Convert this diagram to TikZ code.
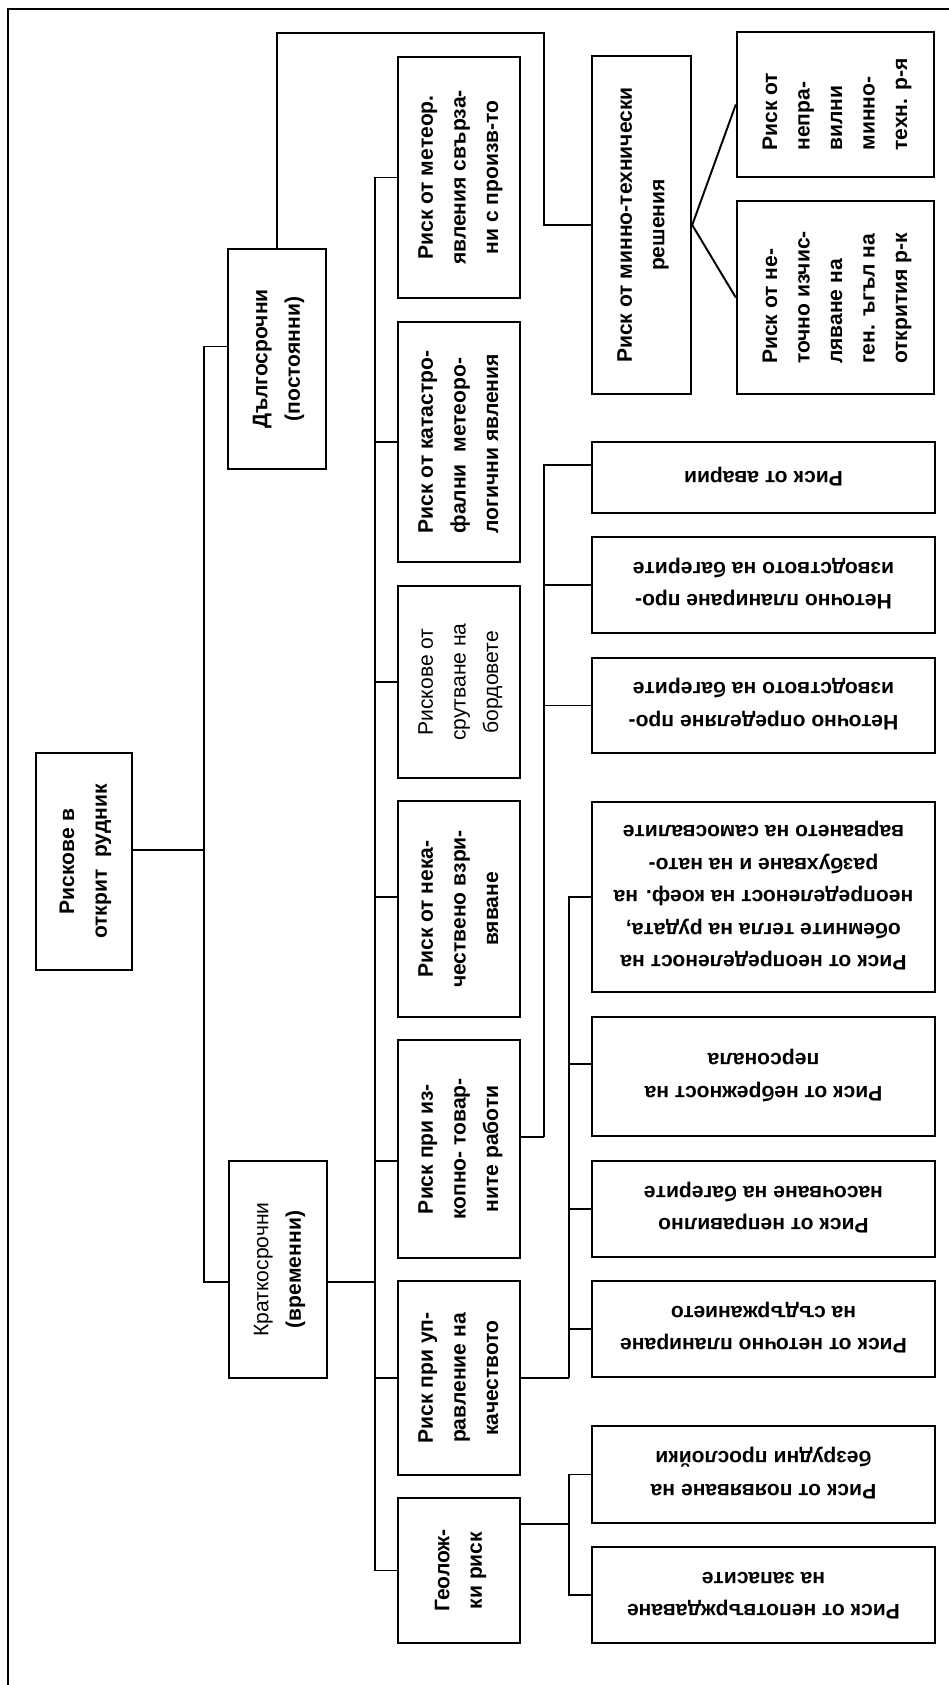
\documentclass[tikz,border=0pt]{standalone}
\usepackage{fontspec}
\setmainfont{Liberation Sans}
\usepackage{graphicx}
\usepackage{tikz}

\newcommand{\rotup}[1]{\rotatebox{90}{\begin{tabular}{@{}c@{}}#1\end{tabular}}}
\newcommand{\rotupl}[1]{\rotatebox{90}{\begin{tabular}{@{}l@{}}#1\end{tabular}}}
\newcommand{\rotdn}[1]{\rotatebox{180}{\begin{tabular}{@{}c@{}}#1\end{tabular}}}

\tikzset{
  box/.style={draw, line width=1.4pt, inner sep=0pt, font=\fontsize{12}{18.5}\selectfont\bfseries},
  midbox/.style={box, minimum width=2.44cm},
  widebox/.style={box, minimum width=6.86cm},
  link/.style={line width=1.1pt}
}

\begin{document}
\begin{tikzpicture}[x=0.02cm, y=-0.02cm]
    \useasboundingbox (0,0) rectangle (949,1685);

    % Frame
    \draw[line width=1.1pt] (960,9) -- (8,9) -- (8,1700);

    % Root and first level
    \node[box, minimum width=1.92cm, minimum height=4.34cm] (root) at (84,861.5) {\rotup{Рискове в\\открит\ \ рудник}};
    \node[box, minimum width=1.96cm, minimum height=4.40cm] (dalg) at (277,359) {\rotup{Дългосрочни\\(постоянни)}};
    \node[box, minimum width=1.96cm, minimum height=4.34cm] (krat) at (278,1269.5) {\rotup{{\mdseries Краткосрочни}\\(временни)}};

    % Second level
    \node[midbox, minimum height=4.82cm] (meteor) at (459,177.5) {\rotup{Риск от метеор.\\явления свърза-\\ни с произв-то}};
    \node[midbox, minimum height=4.80cm] (katas) at (459,442) {\rotupl{Риск от катастро-\\фални\ \ метеоро-\\логични явления}};
    \node[midbox, minimum height=3.84cm] (srut) at (459,682) {\rotup{\mdseries Рискове от\\\mdseries срутване на\\\mdseries бордовете}};
    \node[midbox, minimum height=4.32cm] (nekach) at (459,909) {\rotup{Риск от нека-\\чествено взри-\\вяване}};
    \node[midbox, minimum height=4.36cm] (izkop) at (459,1149) {\rotup{Риск при из-\\копно- товар-\\ните работи}};
    \node[midbox, minimum height=3.88cm] (uprav) at (459,1378) {\rotup{Риск при уп-\\равление на\\качеството}};
    \node[midbox, minimum height=2.90cm] (geol) at (459,1570.5) {\rotup{Геолож-\\ки риск}};

    % Mining decisions
    \node[box, minimum width=1.98cm, minimum height=6.76cm] (mining) at (641.5,225) {\rotup{Риск от минно-технически\\решения}};
    \node[box, minimum width=3.94cm, minimum height=2.90cm] (nepr) at (835.5,104.5) {\rotupl{Риск от\\непра-\\вилни\\минно-\\техн. р-я}};
    \node[box, minimum width=3.94cm, minimum height=3.86cm] (izch) at (835.5,297.5) {\rotupl{Риск от не-\\точно изчис-\\ляване на\\ген. ъгъл на\\открития р-к}};

    % Third level
    \node[widebox, minimum height=1.42cm] (avarii) at (763.5,477.5) {\rotdn{Риск от аварии}};
    \node[widebox, minimum height=1.92cm] (plan) at (763.5,585) {\rotdn{Неточно планиране про-\\изводството на багерите}};
    \node[widebox, minimum height=1.90cm] (opred) at (763.5,705.5) {\rotdn{Неточно определяне про-\\изводството на багерите}};
    \node[widebox, minimum height=3.80cm] (neopr) at (763.5,897) {\rotdn{Риск от неопределеност на\\обемните тегла на рудата,\\неопределеност на коеф. на\\разбухване и на нато-\\варването на самосвалите}};
    \node[widebox, minimum height=2.38cm] (nebr) at (763.5,1076.5) {\rotdn{Риск от небрежност на\\персонала}};
    \node[widebox, minimum height=1.92cm] (nasoch) at (763.5,1209) {\rotdn{Риск от неправилно\\насочване на багерите}};
    \node[widebox, minimum height=1.92cm] (sadarj) at (763.5,1329) {\rotdn{Риск от неточно планиране\\на съдържанието}};
    \node[widebox, minimum height=1.94cm] (poyav) at (763.5,1474.5) {\rotdn{Риск от появяване на\\безрудни прослойки}};
    \node[widebox, minimum height=1.92cm] (nepotv) at (763.5,1595) {\rotdn{Риск от непотвърждаване\\на запасите}};

    % Connectors
    \coordinate (tr1) at (204,861);
    \coordinate (tr2) at (375,1282);
    \coordinate (tr3) at (544,1137);
    \coordinate (tr4) at (569,1378);
    \coordinate (tr5) at (569,1523);
    \coordinate (bend) at (544,33);

    \draw[link] (root.13) -- (root.13 -| tr1);
    \draw[link] (dalg.166) -| (tr1);
    \draw[link] (krat.194) -| (tr1);

    \draw[link] (krat.-14) -- (krat.-14 -| tr2);
    \foreach \n/\a in {meteor/180, katas/180, srut/180, nekach/169, izkop/191, uprav/180, geol/180}
        \draw[link] (\n.\a) -| (tr2);

    \draw[link] (dalg.north) |- (bend) |- (mining.west);
    \draw[link] (mining.east) -- (nepr.west);
    \draw[link] (mining.east) -- (izch.west);

    \draw[link] (izkop.11) -- (izkop.11 -| tr3);
    \foreach \n/\a in {avarii/176, plan/180, opred/180}
        \draw[link] (\n.\a) -| (tr3);

    \draw[link] (uprav.east) -- (uprav.east -| tr4);
    \foreach \n/\a in {neopr/180, nebr/176, nasoch/180, sadarj/180}
        \draw[link] (\n.\a) -| (tr4);

    \draw[link] (geol.37) -- (geol.37 -| tr5);
    \foreach \n in {poyav, nepotv}
        \draw[link] (\n.west) -| (tr5);
\end{tikzpicture}
\end{document}
